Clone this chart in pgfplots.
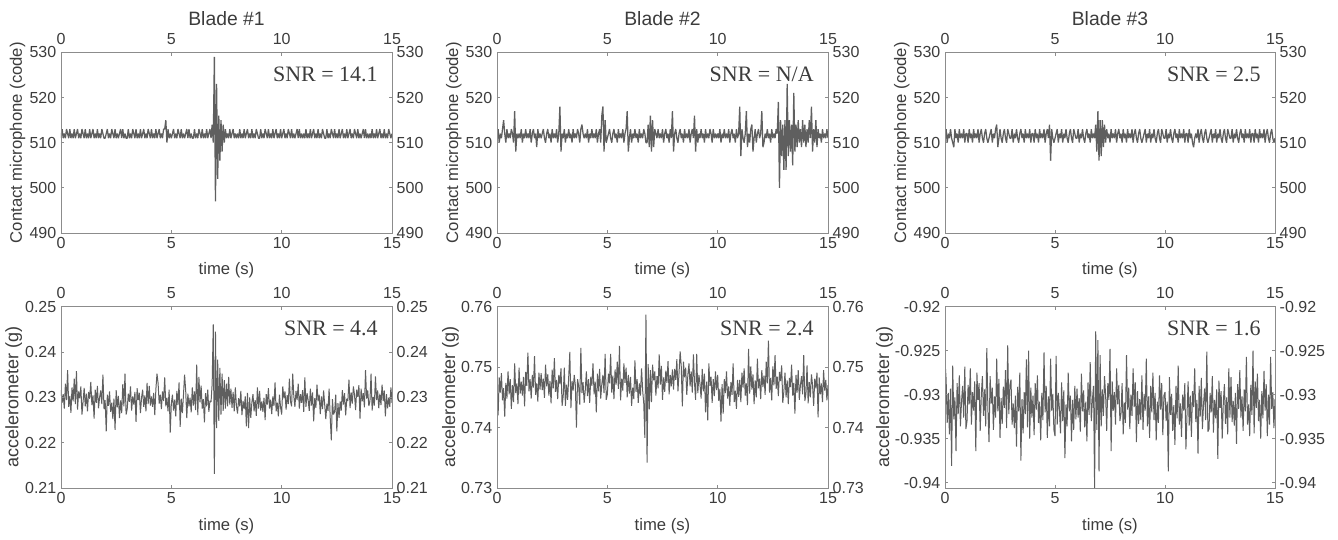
\documentclass[border=0pt]{standalone}
\usepackage{fontspec}
\setmainfont{Liberation Sans}
\newfontfamily\seriffont{Liberation Serif}
\usepackage{pgfplots}
\pgfplotsset{compat=1.18}
\usepackage{pgfplotstable}
\definecolor{sig}{RGB}{95,95,95}
\definecolor{axgray}{RGB}{140,140,140}
\definecolor{txt}{RGB}{60,60,60}

\pgfplotstableread{
t m1 m2 m3 a1 a2 a3
0.00 511 511 511 0.2316 0.7471 -0.9262
0.05 513 513 513 0.2288 0.7420 -0.9282
0.10 511 510 510 0.2307 0.7483 -0.9332
0.15 512 512 512 0.2275 0.7458 -0.9298
0.20 511 511 511 0.2330 0.7490 -0.9345
0.25 513 513 513 0.2294 0.7445 -0.9293
0.30 512 515 511 0.2360 0.7465 -0.9381
0.35 511 512 510 0.2279 0.7418 -0.9267
0.40 513 510 509 0.2303 0.7474 -0.9328
0.45 511 513 513 0.2266 0.7448 -0.9303
0.50 512 511 511 0.2322 0.7493 -0.9364
0.55 511 512 512 0.2291 0.7455 -0.9287
0.60 513 511 510 0.2341 0.7480 -0.9322
0.65 511 513 513 0.2285 0.7431 -0.9278
0.70 512 512 511 0.2358 0.7470 -0.9336
0.75 513 510 512 0.2273 0.7442 -0.9308
0.80 511 517 511 0.2313 0.7506 -0.9290
0.85 512 508 513 0.2298 0.7457 -0.9326
0.90 511 512 510 0.2324 0.7473 -0.9268
0.95 513 511 512 0.2262 0.7439 -0.9339
1.00 512 512 512 0.2290 0.7499 -0.9330
1.05 511 511 510 0.2321 0.7456 -0.9289
1.10 513 513 513 0.2280 0.7476 -0.9311
1.15 511 510 511 0.2308 0.7453 -0.9270
1.20 512 512 512 0.2269 0.7484 -0.9334
1.25 511 511 510 0.2312 0.7435 -0.9297
1.30 513 513 513 0.2297 0.7492 -0.9318
1.35 511 511 511 0.2334 0.7469 -0.9285
1.40 512 512 512 0.2283 0.7524 -0.9364
1.45 513 511 511 0.2304 0.7460 -0.9275
1.50 511 513 513 0.2253 0.7480 -0.9306
1.55 512 510 510 0.2317 0.7448 -0.9287
1.60 511 512 512 0.2288 0.7487 -0.9341
1.65 513 513 513 0.2325 0.7466 -0.9300
1.70 511 511 511 0.2276 0.7518 -0.9279
1.75 512 512 510 0.2300 0.7454 -0.9324
1.80 511 509 512 0.2315 0.7473 -0.9294
1.85 513 513 513 0.2285 0.7443 -0.9336
1.90 512 511 511 0.2350 0.7491 -0.9247
1.95 511 512 510 0.2274 0.7463 -0.9317
2.00 511 511 511 0.2294 0.7490 -0.9354
2.05 512 512 512 0.2225 0.7462 -0.9279
2.10 513 513 513 0.2306 0.7481 -0.9310
2.15 511 511 510 0.2281 0.7449 -0.9292
2.20 512 510 512 0.2313 0.7504 -0.9340
2.25 511 512 511 0.2268 0.7468 -0.9302
2.30 513 513 513 0.2288 0.7488 -0.9326
2.35 512 511 514 0.2252 0.7453 -0.9259
2.40 511 512 509 0.2297 0.7477 -0.9319
2.45 513 510 511 0.2228 0.7440 -0.9282
2.50 511 513 513 0.2316 0.7496 -0.9349
2.55 512 511 511 0.2278 0.7465 -0.9304
2.60 511 512 510 0.2303 0.7515 -0.9333
2.65 512 511 512 0.2254 0.7459 -0.9291
2.70 513 513 513 0.2293 0.7479 -0.9315
2.75 511 510 511 0.2265 0.7447 -0.9272
2.80 513 512 510 0.2329 0.7487 -0.9338
2.85 511 518 513 0.2280 0.7472 -0.9244
2.90 512 508 512 0.2352 0.7498 -0.9322
2.95 511 512 511 0.2262 0.7436 -0.9289
3.00 511 511 511 0.2274 0.7452 -0.9283
3.05 513 513 513 0.2308 0.7499 -0.9334
3.10 511 510 510 0.2290 0.7436 -0.9310
3.15 512 512 512 0.2324 0.7471 -0.9338
3.20 511 511 511 0.2271 0.7446 -0.9301
3.25 513 513 513 0.2302 0.7484 -0.9359
3.30 512 511 511 0.2284 0.7525 -0.9291
3.35 511 512 510 0.2312 0.7432 -0.9319
3.40 513 510 512 0.2246 0.7477 -0.9275
3.45 511 513 513 0.2320 0.7461 -0.9375
3.50 512 511 511 0.2294 0.7487 -0.9305
3.55 511 512 512 0.2310 0.7470 -0.9344
3.60 513 511 510 0.2265 0.7400 -0.9297
3.65 511 513 513 0.2299 0.7480 -0.9322
3.70 512 512 511 0.2317 0.7469 -0.9260
3.75 513 510 512 0.2279 0.7438 -0.9337
3.80 511 513 511 0.2304 0.7532 -0.9250
3.85 512 514 513 0.2269 0.7457 -0.9350
3.90 511 512 510 0.2332 0.7475 -0.9292
3.95 513 511 512 0.2285 0.7441 -0.9326
4.00 512 512 512 0.2325 0.7462 -0.9301
4.05 511 511 510 0.2282 0.7493 -0.9346
4.10 513 513 513 0.2302 0.7452 -0.9287
4.15 511 510 511 0.2279 0.7480 -0.9317
4.20 512 512 512 0.2310 0.7441 -0.9278
4.25 511 511 510 0.2261 0.7484 -0.9332
4.30 513 513 513 0.2318 0.7469 -0.9308
4.35 511 511 511 0.2352 0.7506 -0.9352
4.40 512 512 512 0.2331 0.7455 -0.9298
4.45 513 511 511 0.2286 0.7476 -0.9329
4.50 511 513 513 0.2306 0.7425 -0.9252
4.55 512 510 510 0.2274 0.7489 -0.9320
4.60 511 512 512 0.2313 0.7460 -0.9290
4.65 513 513 513 0.2292 0.7497 -0.9349
4.70 513 510 511 0.2344 0.7448 -0.9302
4.75 515 516 514 0.2280 0.7472 -0.9336
4.80 510 518 506 0.2299 0.7487 -0.9259
4.85 513 508 513 0.2269 0.7457 -0.9318
4.90 511 515 511 0.2317 0.7522 -0.9299
4.95 512 510 510 0.2222 0.7446 -0.9340
5.00 511 511 511 0.2286 0.7455 -0.9347
5.05 512 512 512 0.2306 0.7489 -0.9256
5.10 513 513 513 0.2271 0.7473 -0.9334
5.15 511 511 510 0.2295 0.7522 -0.9298
5.20 512 510 512 0.2258 0.7458 -0.9316
5.25 511 512 511 0.2314 0.7486 -0.9344
5.30 513 513 513 0.2283 0.7447 -0.9286
5.35 512 511 510 0.2333 0.7496 -0.9330
5.40 511 512 512 0.2235 0.7471 -0.9295
5.45 513 510 511 0.2297 0.7509 -0.9372
5.50 511 513 513 0.2265 0.7464 -0.9311
5.55 512 511 511 0.2305 0.7535 -0.9336
5.60 511 512 510 0.2350 0.7445 -0.9275
5.65 512 511 512 0.2316 0.7481 -0.9319
5.70 513 513 513 0.2254 0.7461 -0.9301
5.75 511 510 511 0.2308 0.7506 -0.9353
5.80 513 512 510 0.2280 0.7474 -0.9306
5.85 511 513 513 0.2299 0.7499 -0.9340
5.90 512 517 512 0.2267 0.7450 -0.9290
5.95 511 508 511 0.2322 0.7487 -0.9328
6.00 511 511 511 0.2282 0.7456 -0.9293
6.05 513 513 513 0.2313 0.7484 -0.9326
6.10 511 510 510 0.2272 0.7436 -0.9304
6.15 512 512 512 0.2372 0.7466 -0.9342
6.20 511 511 511 0.2261 0.7447 -0.9276
6.25 513 513 513 0.2345 0.7511 -0.9319
6.30 512 511 511 0.2289 0.7459 -0.9295
6.35 511 512 510 0.2326 0.7480 -0.9337
6.40 513 510 512 0.2275 0.7441 -0.9308
6.45 511 513 513 0.2296 0.7473 -0.9353
6.50 512 511 511 0.2245 0.7453 -0.9286
6.55 511 512 512 0.2309 0.7498 -0.9323
6.60 513 511 510 0.2280 0.7462 -0.9263
6.65 511 513 513 0.2317 0.7440 -0.9330
6.70 512 512 511 0.2268 0.7383 -0.9306
6.75 513 510 512 0.2292 0.7587 -0.9290
6.80 511 510 511 0.2290 0.7342 -0.9406
6.85 514 514 514 0.2330 0.7505 -0.9228
6.90 510 509 508 0.2461 0.7430 -0.9340
6.95 529 516 517 0.2131 0.7495 -0.9238
7.00 497 508 506 0.2445 0.7442 -0.9387
7.05 523 515 515 0.2232 0.7504 -0.9255
7.10 502 509 507 0.2383 0.7478 -0.9336
7.15 516 513 515 0.2248 0.7493 -0.9294
7.20 506 512 509 0.2365 0.7453 -0.9324
7.25 515 511 514 0.2262 0.7485 -0.9279
7.30 508 513 510 0.2352 0.7465 -0.9300
7.35 514 511 513 0.2270 0.7521 -0.9341
7.40 510 512 511 0.2338 0.7471 -0.9287
7.45 513 511 512 0.2275 0.7502 -0.9306
7.50 511 513 510 0.2330 0.7446 -0.9248
7.55 512 510 513 0.2280 0.7483 -0.9364
7.60 511 512 511 0.2345 0.7459 -0.9285
7.65 513 513 512 0.2284 0.7494 -0.9318
7.70 511 511 511 0.2319 0.7474 -0.9297
7.75 512 512 513 0.2277 0.7510 -0.9334
7.80 513 510 510 0.2312 0.7455 -0.9270
7.85 511 513 512 0.2269 0.7487 -0.9311
7.90 512 511 513 0.2322 0.7468 -0.9289
7.95 511 517 511 0.2281 0.7496 -0.9330
8.00 512 508 512 0.2264 0.7463 -0.9321
8.05 511 512 510 0.2298 0.7497 -0.9287
8.10 513 513 513 0.2280 0.7479 -0.9345
8.15 511 511 511 0.2314 0.7513 -0.9309
8.20 512 510 512 0.2261 0.7460 -0.9332
8.25 511 512 510 0.2292 0.7491 -0.9255
8.30 513 513 513 0.2274 0.7526 -0.9317
8.35 511 511 511 0.2302 0.7501 -0.9292
8.40 512 512 512 0.2236 0.7435 -0.9339
8.45 513 510 511 0.2310 0.7509 -0.9300
8.50 511 513 513 0.2232 0.7483 -0.9324
8.55 512 511 510 0.2300 0.7499 -0.9270
8.60 511 512 512 0.2255 0.7454 -0.9314
8.65 513 511 513 0.2289 0.7488 -0.9286
8.70 511 513 511 0.2307 0.7506 -0.9354
8.75 512 510 510 0.2269 0.7468 -0.9296
8.80 511 512 512 0.2294 0.7493 -0.9333
8.85 513 513 513 0.2259 0.7458 -0.9305
8.90 512 511 511 0.2322 0.7521 -0.9329
8.95 511 516 510 0.2275 0.7474 -0.9278
9.00 511 508 511 0.2314 0.7446 -0.9340
9.05 513 513 512 0.2271 0.7522 -0.9299
9.10 511 510 513 0.2291 0.7457 -0.9318
9.15 512 512 510 0.2268 0.7487 -0.9259
9.20 511 511 512 0.2299 0.7472 -0.9336
9.25 513 513 511 0.2250 0.7448 -0.9302
9.30 512 511 513 0.2307 0.7497 -0.9349
9.35 511 512 510 0.2284 0.7460 -0.9290
9.40 513 510 512 0.2320 0.7489 -0.9320
9.45 511 513 511 0.2275 0.7425 -0.9275
9.50 512 511 513 0.2295 0.7476 -0.9329
9.55 511 512 511 0.2263 0.7412 -0.9298
9.60 513 511 510 0.2302 0.7506 -0.9352
9.65 511 513 512 0.2281 0.7469 -0.9308
9.70 512 512 513 0.2333 0.7484 -0.9332
9.75 513 510 511 0.2269 0.7441 -0.9278
9.80 511 513 510 0.2288 0.7480 -0.9317
9.85 512 511 513 0.2258 0.7452 -0.9287
9.90 511 512 512 0.2306 0.7493 -0.9346
9.95 513 511 511 0.2278 0.7462 -0.9301
10.00 511 512 511 0.2262 0.7487 -0.9297
10.05 512 511 513 0.2324 0.7444 -0.9330
10.10 513 513 510 0.2298 0.7464 -0.9308
10.15 511 510 512 0.2313 0.7410 -0.9387
10.20 512 512 511 0.2273 0.7472 -0.9280
10.25 511 511 513 0.2305 0.7423 -0.9323
10.30 513 513 511 0.2285 0.7480 -0.9299
10.35 512 511 510 0.2341 0.7457 -0.9341
10.40 511 512 512 0.2291 0.7493 -0.9312
10.45 513 511 513 0.2280 0.7448 -0.9357
10.50 511 513 511 0.2352 0.7468 -0.9290
10.55 512 510 512 0.2303 0.7436 -0.9327
10.60 511 512 510 0.2279 0.7475 -0.9267
10.65 512 513 513 0.2314 0.7454 -0.9334
10.70 513 511 511 0.2294 0.7506 -0.9310
10.75 511 512 512 0.2330 0.7442 -0.9348
10.80 513 510 511 0.2275 0.7461 -0.9300
10.85 511 513 513 0.2307 0.7431 -0.9318
10.90 512 511 510 0.2288 0.7479 -0.9287
10.95 511 512 512 0.2316 0.7451 -0.9362
11.00 512 518 512 0.2268 0.7479 -0.9323
11.05 511 507 510 0.2344 0.7442 -0.9285
11.10 513 513 513 0.2279 0.7491 -0.9335
11.15 511 511 511 0.2309 0.7466 -0.9301
11.20 512 510 512 0.2294 0.7498 -0.9348
11.25 511 512 510 0.2270 0.7453 -0.9296
11.30 513 517 509 0.2319 0.7473 -0.9314
11.35 511 509 511 0.2282 0.7437 -0.9270
11.40 512 512 512 0.2311 0.7530 -0.9331
11.45 513 510 511 0.2247 0.7456 -0.9306
11.50 511 513 513 0.2298 0.7501 -0.9367
11.55 512 514 510 0.2277 0.7463 -0.9290
11.60 511 508 512 0.2328 0.7488 -0.9325
11.65 513 511 513 0.2291 0.7439 -0.9281
11.70 511 513 511 0.2306 0.7478 -0.9339
11.75 512 510 510 0.2263 0.7450 -0.9311
11.80 511 512 512 0.2302 0.7514 -0.9293
11.85 513 513 513 0.2274 0.7465 -0.9329
11.90 512 511 511 0.2315 0.7481 -0.9251
11.95 511 512 510 0.2284 0.7447 -0.9342
12.00 511 517 511 0.2252 0.7495 -0.9339
12.05 513 509 512 0.2286 0.7467 -0.9298
12.10 511 510 513 0.2270 0.7486 -0.9320
12.15 512 512 510 0.2319 0.7454 -0.9279
12.20 511 511 512 0.2255 0.7509 -0.9343
12.25 513 513 511 0.2205 0.7473 -0.9306
12.30 512 511 513 0.2296 0.7544 -0.9327
12.35 511 512 510 0.2262 0.7458 -0.9294
12.40 513 510 512 0.2268 0.7482 -0.9373
12.45 511 513 511 0.2306 0.7445 -0.9284
12.50 512 511 513 0.2225 0.7501 -0.9315
12.55 511 512 511 0.2287 0.7470 -0.9296
12.60 513 511 510 0.2255 0.7520 -0.9350
12.65 511 513 512 0.2291 0.7464 -0.9309
12.70 512 512 513 0.2271 0.7484 -0.9288
12.75 513 519 511 0.2316 0.7452 -0.9333
12.80 511 500 510 0.2284 0.7492 -0.9303
12.85 512 515 513 0.2309 0.7477 -0.9345
12.90 511 507 512 0.2260 0.7503 -0.9270
12.95 513 514 511 0.2297 0.7441 -0.9326
13.00 511 504 511 0.2292 0.7460 -0.9280
13.05 512 515 513 0.2339 0.7491 -0.9331
13.10 513 504 510 0.2276 0.7450 -0.9307
13.15 511 523 512 0.2311 0.7478 -0.9335
13.20 512 507 511 0.2286 0.7439 -0.9298
13.25 511 515 513 0.2324 0.7482 -0.9356
13.30 513 508 511 0.2306 0.7467 -0.9288
13.35 512 514 510 0.2272 0.7504 -0.9316
13.40 511 505 512 0.2317 0.7453 -0.9272
13.45 513 521 513 0.2301 0.7474 -0.9326
13.50 511 508 511 0.2327 0.7423 -0.9302
13.55 512 514 512 0.2253 0.7487 -0.9341
13.60 511 509 510 0.2319 0.7458 -0.9294
13.65 512 515 513 0.2291 0.7495 -0.9319
13.70 513 510 511 0.2309 0.7446 -0.9257
13.75 511 513 512 0.2278 0.7470 -0.9334
13.80 513 509 511 0.2360 0.7485 -0.9311
13.85 511 515 513 0.2297 0.7455 -0.9347
13.90 512 510 510 0.2315 0.7520 -0.9289
13.95 511 514 512 0.2281 0.7444 -0.9323
14.00 512 509 512 0.2291 0.7456 -0.9250
14.05 511 513 510 0.2352 0.7503 -0.9344
14.10 513 510 513 0.2271 0.7440 -0.9285
14.15 511 515 511 0.2301 0.7475 -0.9315
14.20 512 511 512 0.2282 0.7450 -0.9276
14.25 511 518 510 0.2346 0.7488 -0.9330
14.30 513 508 513 0.2294 0.7470 -0.9306
14.35 511 513 511 0.2315 0.7436 -0.9350
14.40 512 510 512 0.2276 0.7481 -0.9296
14.45 513 515 511 0.2308 0.7465 -0.9327
14.50 511 509 513 0.2283 0.7491 -0.9273
14.55 512 513 510 0.2328 0.7417 -0.9318
14.60 511 511 512 0.2292 0.7483 -0.9288
14.65 513 512 513 0.2315 0.7455 -0.9347
14.70 511 510 511 0.2258 0.7473 -0.9300
14.75 512 513 510 0.2307 0.7442 -0.9334
14.80 511 511 512 0.2276 0.7495 -0.9257
14.85 513 512 513 0.2299 0.7461 -0.9316
14.90 512 511 511 0.2279 0.7479 -0.9297
14.95 511 513 510 0.2322 0.7445 -0.9338
15.00 512 511 511 0.2288 0.7470 -0.9305
}\sig

\pgfplotsset{
  base/.style={
    scale only axis,
    xmin=0, xmax=15,
    xtick={0,5,10,15}, xticklabels={0,5,10,15},
    axis line style={axgray, line width=0.6pt},
    tick style={axgray, line width=0.5pt},
    major tick length=2.5pt,
    tick align=inside,
    tick label style={font=\fontsize{12}{14}\selectfont, text=txt},
  },
  main/.style={
    base,
    xlabel={time (s)},
    xlabel style={at={([yshift=-31.5pt]axis description cs:0.5,0)}, anchor=base,
      font=\fontsize{12.5}{15}\selectfont, text=txt, inner sep=0pt},
    title style={at={([yshift=14pt]axis description cs:0.5,1)}, anchor=base,
      font=\fontsize{14.5}{17}\selectfont, text=txt, inner sep=0pt},
  },
  over/.style={
    base,
    xticklabel pos=right, yticklabel pos=right,
    xtick pos=both, ytick pos=both,
    xticklabel style={yshift=2.5pt},
  },
  mic/.style={ymin=490, ymax=530, ytick={490,500,510,520,530},
    yticklabels={490,500,510,520,530}},
  acA/.style={ymin=0.21, ymax=0.25, ytick={0.21,0.22,0.23,0.24,0.25},
    yticklabels={0.21,0.22,0.23,0.24,0.25}},
  acB/.style={ymin=0.73, ymax=0.76, ytick={0.73,0.74,0.75,0.76},
    yticklabels={0.73,0.74,0.75,0.76}},
  acC/.style={ymin=-0.9406, ymax=-0.92, ytick={-0.94,-0.935,-0.93,-0.925,-0.92},
    yticklabels={-0.94,-0.935,-0.93,-0.925,-0.92}},
  ylab/.style 2 args={ylabel style={at={([xshift=-#1]axis description cs:0,0.5)}, anchor=base,
      font=\fontsize{#2}{16}\selectfont, text=txt, inner sep=0pt}},
  topw/.style={width=248.25pt, height=135.5pt},
  topw3/.style={width=247.5pt, height=135.5pt},
  botw/.style={width=248.25pt, height=136pt},
  botw3/.style={width=247.5pt, height=136pt},
  micline/.style={sig, line width=0.95pt, line join=bevel},
  accline/.style={sig, line width=0.75pt, line join=bevel},
}
\newcommand{\snr}[1]{\node[anchor=base east, font=\seriffont\fontsize{16.5}{19}\selectfont, text=txt, inner sep=0pt]
  at ([xshift=-10.5pt,yshift=-21.75pt]rel axis cs:1,1) {#1};}

\begin{document}
\begin{tikzpicture}
\path[use as bounding box] (0,0) rectangle (1003.5pt,404.25pt);

% ---------- Blade 1, microphone
\begin{axis}[main, mic, topw, at={(45.75pt,229.5pt)}, title={Blade \#1},
  ylabel={Contact microphone (code)}, ylab={29.25pt}{12.5}]
\addplot[micline] table[x=t, y=m1] {\sig};
\snr{SNR = 14.1}
\end{axis}
\begin{axis}[over, mic, topw, at={(45.75pt,229.5pt)}]
\end{axis}

% ---------- Blade 2, microphone
\begin{axis}[main, mic, topw, at={(372.75pt,229.5pt)}, title={Blade \#2},
  ylabel={Contact microphone (code)}, ylab={29.25pt}{12.5}]
\addplot[micline] table[x=t, y=m2] {\sig};
\snr{SNR = N/A}
\end{axis}
\begin{axis}[over, mic, topw, at={(372.75pt,229.5pt)}]
\end{axis}

% ---------- Blade 3, microphone
\begin{axis}[main, mic, topw3, at={(708.75pt,229.5pt)}, title={Blade \#3},
  ylabel={Contact microphone (code)}, ylab={29.25pt}{12.5}]
\addplot[micline] table[x=t, y=m3] {\sig};
\snr{SNR = 2.5}
\end{axis}
\begin{axis}[over, mic, topw3, at={(708.75pt,229.5pt)}]
\end{axis}

% ---------- Blade 1, accelerometer
\begin{axis}[main, acA, botw, at={(45.75pt,38.25pt)},
  ylabel={accelerometer (g)}, ylab={32pt}{13.5}]
\addplot[accline] table[x=t, y=a1] {\sig};
\snr{SNR = 4.4}
\end{axis}
\begin{axis}[over, acA, botw, at={(45.75pt,38.25pt)}]
\end{axis}

% ---------- Blade 2, accelerometer
\begin{axis}[main, acB, botw, at={(372.75pt,38.25pt)},
  ylabel={accelerometer (g)}, ylab={31.5pt}{13.5}]
\addplot[accline] table[x=t, y=a2] {\sig};
\snr{SNR = 2.4}
\end{axis}
\begin{axis}[over, acB, botw, at={(372.75pt,38.25pt)}]
\end{axis}

% ---------- Blade 3, accelerometer
\begin{axis}[main, acC, botw3, at={(708.75pt,38.25pt)},
  ylabel={accelerometer (g)}, ylab={42pt}{13.5}]
\addplot[accline] table[x=t, y=a3] {\sig};
\snr{SNR = 1.6}
\end{axis}
\begin{axis}[over, acC, botw3, at={(708.75pt,38.25pt)}]
\end{axis}

\end{tikzpicture}
\end{document}
